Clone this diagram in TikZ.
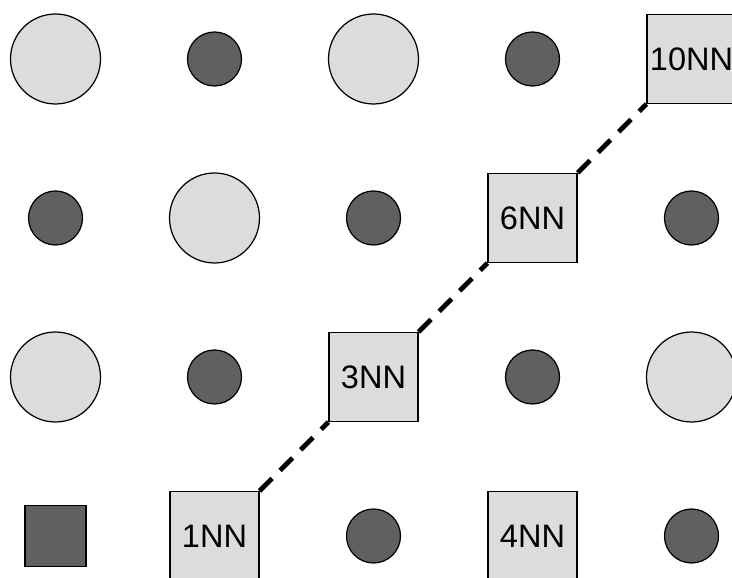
\documentclass[tikz,border=0pt]{standalone}
\usepackage{fontspec}
\setmainfont{Liberation Sans}
\usepackage{xcolor}
\definecolor{lightsite}{HTML}{DCDCDC}
\definecolor{darksite}{HTML}{606060}

\begin{document}
\begin{tikzpicture}[x=3.18cm,y=3.18cm,
  big/.style={circle,draw,line width=0.7pt,fill=lightsite,minimum size=1.8cm,inner sep=0pt},
  small/.style={circle,draw,line width=0.7pt,fill=darksite,minimum size=1.08cm,inner sep=0pt},
  nnbox/.style={rectangle,draw,line width=0.7pt,fill=lightsite,minimum size=1.78cm,inner sep=0pt,
    font=\fontsize{18.5}{22}\selectfont},
  center/.style={rectangle,draw,line width=0.7pt,fill=darksite,minimum size=1.22cm,inner sep=0pt},
  nnlink/.style={line width=2.7pt,dash pattern=on 10pt off 6.5pt}]
\clip (-1.11cm,-0.84cm) rectangle (13.53cm,10.72cm);
% top row
\node[big] (b03) at (0,3) {};
\node[small] (s13) at (1,3) {};
\node[big] (b23) at (2,3) {};
\node[small] (s33) at (3,3) {};
\node[nnbox] (nn10) at (4,3) {10NN};
% second row
\node[small] (s02) at (0,2) {};
\node[big] (b12) at (1,2) {};
\node[small] (s22) at (2,2) {};
\node[nnbox] (nn6) at (3,2) {6NN};
\node[small] (s42) at (4,2) {};
% third row
\node[big] (b01) at (0,1) {};
\node[small] (s11) at (1,1) {};
\node[nnbox] (nn3) at (2,1) {3NN};
\node[small] (s31) at (3,1) {};
\node[big] (b41) at (4,1) {};
% bottom row
\node[center] (c00) at (0,0) {};
\node[nnbox] (nn1) at (1,0) {1NN};
\node[small] (s20) at (2,0) {};
\node[nnbox] (nn4) at (3,0) {4NN};
\node[small] (s40) at (4,0) {};
% diagonal path
\draw[nnlink] (nn1.north east) -- (nn3.south west);
\draw[nnlink] (nn3.north east) -- (nn6.south west);
\draw[nnlink] (nn6.north east) -- (nn10.south west);
\end{tikzpicture}
\end{document}
